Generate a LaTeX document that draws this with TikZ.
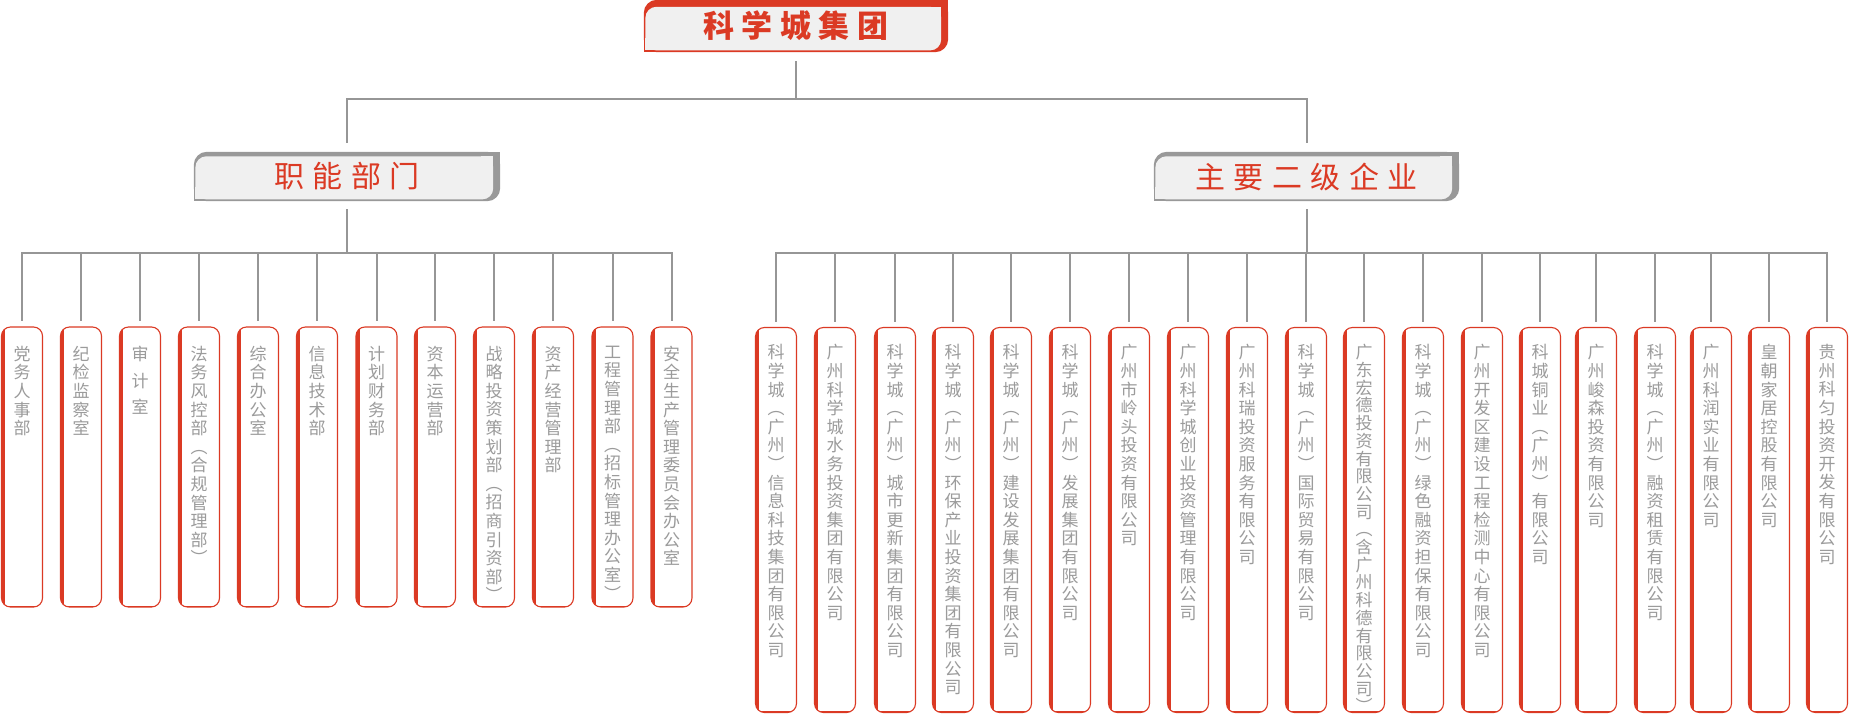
\documentclass[tikz,border=0pt]{standalone}
\usepackage{fontspec}
\newfontfamily\cjk{Noto Sans CJK SC}
\usetikzlibrary{backgrounds}
\definecolor{cred}{RGB}{219,58,36}
\definecolor{lgray}{RGB}{150,150,150}
\definecolor{bgray}{RGB}{153,153,153}
\definecolor{hfill}{RGB}{240,240,240}
\definecolor{tgray}{RGB}{155,155,155}
\makeatletter
\newcommand\vstack[1]{\vs@aux#1\vs@end}
\def\vs@end{\vs@end}
\def\vs@aux#1{\ifx#1\vs@end\else\ifx#1*\vskip8pt\relax\else\hbox to 1em{\hss#1\hss}\fi\expandafter\vs@aux\fi}
\makeatother
\newcommand\dtext[2][18.6pt]{\vbox to 280pt{\baselineskip=#1\lineskiplimit=-20pt\vskip19pt\vstack{#2}\vfil}}
\newcommand\ctext[2][18.6pt]{\vbox to 385pt{\baselineskip=#1\lineskiplimit=-20pt\vskip17pt\vstack{#2}\vfil}}
\newcommand\tabshape[4]{%
 \fill[#2, rounded corners=13pt] (#1.north west) rectangle (#1.south east);
 \fill[#2] ([xshift=-14pt]#1.north east) rectangle ([yshift=-14pt]#1.north east);
 \fill[#2] (#1.south west) rectangle ([xshift=14pt,yshift=14pt]#1.south west);
 \fill[hfill, rounded corners=11pt] ([xshift=1.6pt,yshift=-#3]#1.north west) rectangle ([xshift=-#4,yshift=1.8pt]#1.south east);
 \fill[hfill] ([xshift=-#4-12pt,yshift=-#3]#1.north east) rectangle ([xshift=-#4,yshift=-#3-12pt]#1.north east);
 \fill[hfill] ([xshift=1.6pt,yshift=1.8pt]#1.south west) rectangle ([xshift=13.6pt,yshift=13.8pt]#1.south west);
}
\begin{document}
\begin{tikzpicture}[x=1pt,y=-1pt,
  conn/.style={draw=lgray, line width=2pt},
  tabnode/.style={inner sep=0pt, minimum height=49pt, text=cred},
  hdr/.style={tabnode, minimum width=306pt, font=\cjk\fontsize{30pt}{30pt}\selectfont},
  topnode/.style={tabnode, minimum width=304pt, minimum height=52pt, font=\cjk\bfseries\fontsize{31pt}{31pt}\selectfont},
  box/.style={draw=cred, line width=1.1pt, fill=white, rounded corners=9pt, inner sep=0pt,
    minimum width=41pt, text=tgray, font=\cjk\fontsize{17pt}{18.6pt}\selectfont,
    path picture={
      \fill[cred, sharp corners] (path picture bounding box.north west) rectangle ([xshift=3.5pt]path picture bounding box.south west);
      \fill[cred, sharp corners] (path picture bounding box.south west) rectangle ([yshift=1.2pt]path picture bounding box.south east);
    }},
  dbox/.style={box, minimum height=280pt},
  cbox/.style={box, minimum height=385pt}]
\useasboundingbox (0,0) rectangle (1852,714);

\node[topnode] (top) at (796,26) {\raisebox{-4pt}{科\hspace{7.5pt}学\hspace{7.5pt}城\hspace{7.5pt}集\hspace{7.5pt}团}};
\node[hdr] (h1) at (347,176.5) {\raisebox{-2.5pt}{职\hspace{8.5pt}能\hspace{8.5pt}部\hspace{8.5pt}门}};
\node[hdr, minimum width=305pt] (h2) at (1306.5,176.5) {\raisebox{-2.5pt}{主\hspace{8.5pt}要\hspace{8.5pt}二\hspace{8.5pt}级\hspace{8.5pt}企\hspace{8.5pt}业}};

\node[dbox] (d1) at (22,467) {\dtext{党务人事部}};
\node[dbox] (d2) at (81,467) {\dtext{纪检监察室}};
\node[dbox] (d3) at (140,467) {\dtext{审*计*室}};
\node[dbox] (d4) at (199,467) {\dtext{法务风控部︵合规管理部︶}};
\node[dbox] (d5) at (258,467) {\dtext{综合办公室}};
\node[dbox] (d6) at (317,467) {\dtext{信息技术部}};
\node[dbox] (d7) at (376.5,467) {\dtext{计划财务部}};
\node[dbox] (d8) at (435,467) {\dtext{资本运营部}};
\node[dbox] (d9) at (494,467) {\dtext{战略投资策划部︵招商引资部︶}};
\node[dbox] (d10) at (553,467) {\dtext{资产经营管理部}};
\node[dbox] (d11) at (612.5,467) {\dtext{工程管理部︵招标管理办公室︶}};
\node[dbox] (d12) at (671.5,467) {\dtext{安全生产管理委员会办公室}};

\node[cbox] (c1) at (776,520) {\ctext{科学城︵广州︶信息科技集团有限公司}};
\node[cbox] (c2) at (835,520) {\ctext{广州科学城水务投资集团有限公司}};
\node[cbox] (c3) at (895,520) {\ctext{科学城︵广州︶城市更新集团有限公司}};
\node[cbox] (c4) at (953,520) {\ctext{科学城︵广州︶环保产业投资集团有限公司}};
\node[cbox] (c5) at (1011,520) {\ctext{科学城︵广州︶建设发展集团有限公司}};
\node[cbox] (c6) at (1070,520) {\ctext{科学城︵广州︶发展集团有限公司}};
\node[cbox] (c7) at (1129,520) {\ctext{广州市岭头投资有限公司}};
\node[cbox] (c8) at (1188,520) {\ctext{广州科学城创业投资管理有限公司}};
\node[cbox] (c9) at (1247,520) {\ctext{广州科瑞投资服务有限公司}};
\node[cbox] (c10) at (1306,520) {\ctext{科学城︵广州︶国际贸易有限公司}};
\node[cbox] (c11) at (1364,520) {\ctext[17.7pt]{广东宏德投资有限公司︵含广州科德有限公司︶}};
\node[cbox] (c12) at (1423,520) {\ctext{科学城︵广州︶绿色融资担保有限公司}};
\node[cbox] (c13) at (1482,520) {\ctext{广州开发区建设工程检测中心有限公司}};
\node[cbox] (c14) at (1540,520) {\ctext{科城铜业︵广州︶有限公司}};
\node[cbox] (c15) at (1596,520) {\ctext{广州峻森投资有限公司}};
\node[cbox] (c16) at (1655,520) {\ctext{科学城︵广州︶融资租赁有限公司}};
\node[cbox] (c17) at (1711,520) {\ctext{广州科润实业有限公司}};
\node[cbox] (c18) at (1769,520) {\ctext{皇朝家居控股有限公司}};
\node[cbox] (c19) at (1827,520) {\ctext{贵州科匀投资开发有限公司}};

\begin{scope}[on background layer]
\tabshape{top}{cred}{7pt}{7pt}
\tabshape{h1}{bgray}{4.5pt}{7pt}
\tabshape{h2}{bgray}{4.5pt}{7pt}
\end{scope}

\coordinate (j0) at (796,99);
\coordinate (j1) at (347,253);
\coordinate (j2) at (1306.5,253);
\draw[conn, shorten <=9pt] (top.south) -- (j0);
\draw[conn, shorten >=9pt] (j0) -| (h1.north);
\draw[conn, shorten >=9pt] (j0) -| (h2.north);
\draw[conn, shorten <=8pt] (h1.south) -- (j1);
\draw[conn, shorten <=8pt] (h2.south) -- (j2);
\foreach \i in {1,...,12} \draw[conn, shorten >=5pt] (j1) -| (d\i.north);
\foreach \i in {1,...,19} \draw[conn, shorten >=5pt] (j2) -| (c\i.north);
\end{tikzpicture}
\end{document}
